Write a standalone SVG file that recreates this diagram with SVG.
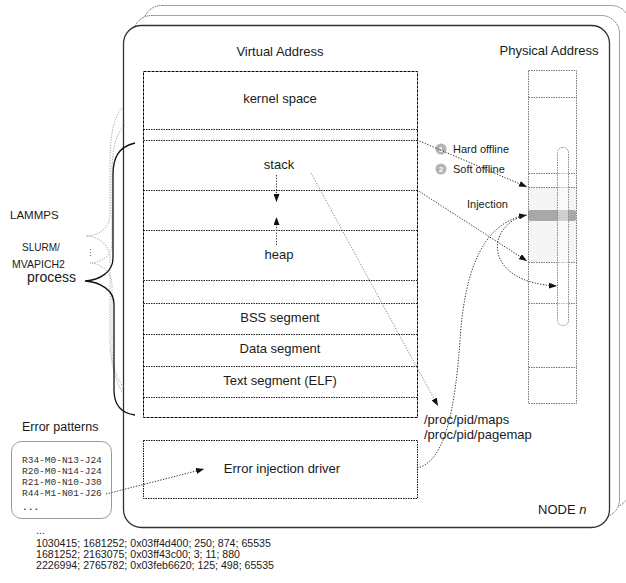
<svg xmlns="http://www.w3.org/2000/svg" width="626" height="583" viewBox="0 0 626 583">
  <style>
    text { font-family: "Liberation Sans", Arial, sans-serif; fill: #1a1a1a; }
    .t13 { font-size: 13px; }
    .t11 { font-size: 11px; }
    .mid { text-anchor: middle; }
    .mono { font-family: "Liberation Mono", "Courier New", monospace; font-size: 9.5px; fill: #333; }
    .num { font-size: 10.6px; }
    .back { fill: #fff; stroke: #444; stroke-width: 1; stroke-dasharray: 1 1; }
    .seg { fill: none; stroke: #222; stroke-width: 1; stroke-dasharray: 1.5 1; }
    .pgrid { fill: none; stroke: #777; stroke-width: 1; stroke-dasharray: 1.5 1; }
    .dark { fill: none; stroke: #333; stroke-width: 1; stroke-dasharray: 1.3 1.5; }
    .light { fill: none; stroke: #8a8a8a; stroke-width: 1; stroke-dasharray: 1.3 1.5; }
    .ghost { fill: none; stroke: #aaa; stroke-width: 1; stroke-dasharray: 1.3 1.3; }
    .badge { fill: #b3b3b3; }
    .badge-n { font-size: 8px; font-weight: bold; fill: #fff; text-anchor: middle; }
  </style>
  <defs>
    <marker id="head" viewBox="0 0 8 6" refX="8" refY="3" markerWidth="8" markerHeight="6" markerUnits="userSpaceOnUse" orient="auto">
      <path d="M0,0 L8,3 L0,6 z" fill="#111"/>
    </marker>
  </defs>

  <!-- stacked nodes behind NODE n -->
  <g id="node-back-2">
    <rect class="back" x="143.5" y="5.5" width="486" height="502" rx="18"/>
  </g>
  <g id="node-back-1">
    <rect class="back" x="133.5" y="15.5" width="486" height="502" rx="18"/>
  </g>

  <!-- NODE n -->
  <g id="node-n">
    <rect x="123.5" y="25.5" width="486" height="502" rx="18" fill="#fff" stroke="#333" stroke-width="1.3"/>
    <text class="t13" x="538" y="514">NODE <tspan font-style="italic">n</tspan></text>
  </g>

  <!-- virtual address space -->
  <g id="virtual-address">
    <text class="t13 mid" x="280" y="56">Virtual Address</text>
    <rect x="143.5" y="71.5" width="274" height="346" fill="#fff" stroke="#000" stroke-width="1" stroke-dasharray="3 1"/>
    <line class="seg" x1="143.5" y1="129.5" x2="417.5" y2="129.5"/>
    <line class="seg" x1="143.5" y1="140.5" x2="417.5" y2="140.5"/>
    <line class="seg" x1="143.5" y1="190.5" x2="417.5" y2="190.5"/>
    <line class="seg" x1="143.5" y1="230.5" x2="417.5" y2="230.5"/>
    <line class="seg" x1="143.5" y1="280.5" x2="417.5" y2="280.5"/>
    <line class="seg" x1="143.5" y1="303.5" x2="417.5" y2="303.5"/>
    <line class="seg" x1="143.5" y1="334.5" x2="417.5" y2="334.5"/>
    <line class="seg" x1="143.5" y1="366.5" x2="417.5" y2="366.5"/>
    <line class="seg" x1="143.5" y1="397.5" x2="417.5" y2="397.5"/>
    <text class="t13 mid" x="280" y="103">kernel space</text>
    <text class="t13 mid" x="279" y="169">stack</text>
    <text class="t13 mid" x="279" y="259">heap</text>
    <text class="t13 mid" x="280" y="322">BSS segment</text>
    <text class="t13 mid" x="280" y="353">Data segment</text>
    <text class="t13 mid" x="280" y="385">Text segment (ELF)</text>
  </g>

  <!-- physical address column -->
  <g id="physical-address">
    <text class="t13 mid" x="549" y="55">Physical Address</text>
    <rect x="528" y="187" width="48" height="75" rx="2" fill="#f5f5f5"/>
    <rect x="528" y="210" width="48" height="11" rx="2" fill="#a8a8a8"/>
    <rect class="pgrid" x="528.5" y="70.5" width="48" height="333"/>
    <line class="pgrid" x1="528.5" y1="97.5" x2="576.5" y2="97.5"/>
    <line class="pgrid" x1="528.5" y1="173.5" x2="576.5" y2="173.5"/>
    <line class="pgrid" x1="528.5" y1="187.5" x2="576.5" y2="187.5"/>
    <line class="pgrid" x1="528.5" y1="262.5" x2="576.5" y2="262.5"/>
    <line class="pgrid" x1="528.5" y1="303.5" x2="576.5" y2="303.5"/>
    <line class="pgrid" x1="528.5" y1="367.5" x2="576.5" y2="367.5"/>
    <rect x="557.5" y="147.5" width="11" height="178" rx="5" fill="#fff" fill-opacity="0.45" stroke="#888" stroke-width="1" stroke-dasharray="1.5 1"/>
  </g>

  <!-- offline labels -->
  <g id="offline-labels">
    <circle class="badge" cx="441" cy="149" r="5.5"/>
    <text class="badge-n" x="441" y="152">1</text>
    <text class="t11" x="453" y="153">Hard offline</text>
    <circle class="badge" cx="441" cy="169" r="5.5"/>
    <text class="badge-n" x="441" y="172">2</text>
    <text class="t11" x="453" y="173">Soft offline</text>
    <text class="t11" x="467" y="208">Injection</text>
  </g>

  <!-- procfs label -->
  <g id="procfs">
    <text class="t13" x="424" y="424">/proc/pid/maps</text>
    <text class="t13" x="424" y="439">/proc/pid/pagemap</text>
  </g>

  <!-- error injection driver -->
  <g id="injection-driver">
    <rect x="143.5" y="440.5" width="274" height="58" fill="#fff" stroke="#111" stroke-width="1" stroke-dasharray="1.5 1"/>
    <text class="t13 mid" x="282" y="473">Error injection driver</text>
  </g>

  <!-- error patterns -->
  <g id="error-patterns">
    <text x="22" y="431" style="font-size:12.5px">Error patterns</text>
    <rect x="11.5" y="441.5" width="100" height="77" rx="10" fill="#fff" stroke="#999" stroke-width="1"/>
    <text class="mono" x="22" y="463">R34-M0-N13-J24</text>
    <text class="mono" x="22" y="474">R20-M0-N14-J24</text>
    <text class="mono" x="22" y="485">R21-M0-N10-J30</text>
    <text class="mono" x="22" y="496">R44-M1-N01-J26</text>
    <text class="mono" x="22" y="510" style="font-weight:bold">...</text>
  </g>

  <!-- sample records -->
  <g id="records">
    <text class="num" x="36" y="534">...</text>
    <text class="num" x="36" y="547">1030415; 1681252; 0x03ff4d400; 250; 874; 65535</text>
    <text class="num" x="36" y="558">1681252; 2163075; 0x03ff43c00; 3; 11; 880</text>
    <text class="num" x="36" y="569">2226994; 2765782; 0x03feb6620; 125; 498; 65535</text>
  </g>

  <!-- process grouping -->
  <g id="process-group">
    <path class="ghost" d="M122,108 C112,120 110,140 110,165 L110,215 C110,228 98,236 86,236 C98,236 110,245 110,258 L110,340 C110,360 115,380 122,392"/>
    <path class="ghost" d="M125,125 C115,135 112,150 112,175 L112,245 C112,255 100,263 90,263 C100,263 112,272 112,285 L112,350 C112,368 118,380 124,388"/>
    <path d="M135,143 C118,147 113,158 113,175 L113,258 C113,272 100,280 85,281 C100,282 114,290 114,304 L114,390 C114,404 120,413 135,415" fill="none" stroke="#111" stroke-width="1.3"/>
    <text x="10" y="219" style="font-size:11.5px">LAMMPS</text>
    <text x="22" y="251" style="font-size:10px">SLURM/</text>
    <text x="12" y="268" style="font-size:10.5px">MVAPICH2</text>
    <text x="86" y="256" style="font-size:9px;fill:#555">⋮</text>
    <text x="27" y="282" style="font-size:14px">process</text>
  </g>

  <!-- connectors -->
  <g id="connectors">
    <line class="dark" x1="276.5" y1="175" x2="276.5" y2="202" marker-end="url(#head)"/>
    <line class="dark" x1="276.5" y1="245" x2="276.5" y2="217" marker-end="url(#head)"/>
    <line class="dark" x1="417" y1="140" x2="527" y2="187" marker-end="url(#head)"/>
    <line class="dark" x1="417" y1="190" x2="527" y2="261" marker-end="url(#head)"/>
    <path class="dark" d="M417,468 C445,462 455,410 460,340 C465,265 485,222 527,215" marker-end="url(#head)"/>
    <path class="dark" d="M522,216 C484,230 486,283 557,286" marker-end="url(#head)"/>
    <line class="light" x1="311" y1="173" x2="438" y2="406" marker-end="url(#head)"/>
    <line class="dark" x1="106" y1="494" x2="204" y2="469" marker-end="url(#head)"/>
  </g>
</svg>
